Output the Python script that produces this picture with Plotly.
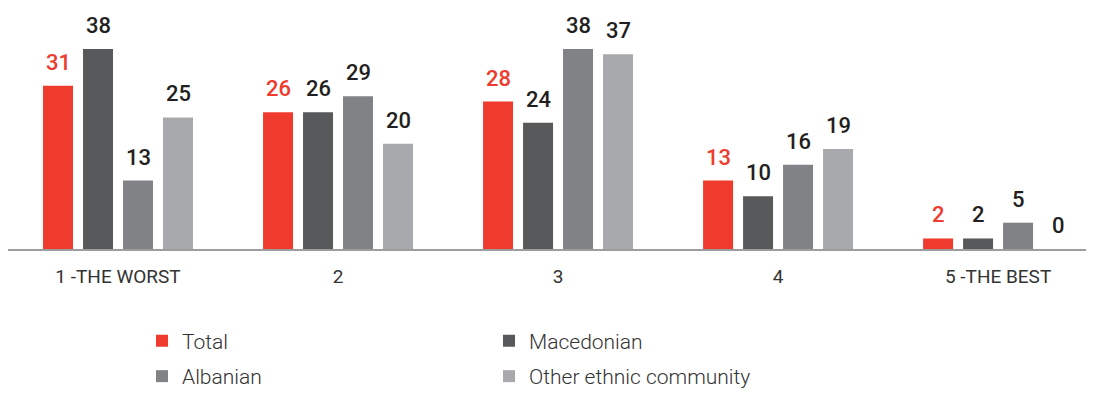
import plotly.graph_objects as go

categories = ["1 -THE WORST", "2", "3", "4", "5 -THE BEST"]
total = [31, 26, 28, 13, 2]
macedonian = [38, 26, 24, 10, 2]
albanian = [13, 29, 38, 16, 5]
other = [25, 20, 37, 19, 0]

series = [
    ("Total", total, "#EE3B2D", "#EE3B2D", "legend"),
    ("Macedonian", macedonian, "#58595B", "#231F20", "legend"),
    ("Albanian", albanian, "#808285", "#231F20", "legend2"),
    ("Other ethnic community", other, "#A7A9AC", "#231F20", "legend2"),
]

fig = go.Figure()
for i, (name, vals, col, lblcol, leg) in enumerate(series):
    fig.add_trace(go.Bar(x=categories, y=vals, name=name, marker_color=col,
                         marker_line_width=0, legend=leg))
    # value labels above bars (x given as category index)
    for j, v in enumerate(vals):
        fig.add_annotation(x=j, y=v, text=str(v), showarrow=False,
                           xshift=(i - 1.5) * 40, yshift=9, yanchor="bottom",
                           font=dict(family="Roboto", size=22, color=lblcol, weight=500))

legfont = dict(family="Roboto", size=21, color="#333333", weight=300)

# page body has an 8px margin, so the figure is a bit smaller than the window
fig.update_layout(
    width=1086, height=389,
    margin=dict(l=0, r=0, t=2, b=148, autoexpand=False),
    plot_bgcolor="white", paper_bgcolor="white",
    barmode="group", bargap=0.273, bargroupgap=0.25,
    font=dict(family="Roboto", color="#333333"),
    xaxis=dict(range=[-0.5, 4.436], showline=True, linecolor="#9D9D9D", linewidth=2,
               ticks="", tickfont=dict(size=19, color="#333333"), ticklabelstandoff=9,
               showgrid=False, automargin=False, fixedrange=True),
    yaxis=dict(range=[0, 45.4], visible=False, showgrid=False, zeroline=False),
    legend=dict(orientation="h", xref="container", yref="container",
                x=0.1234, y=0.144, xanchor="left", yanchor="middle",
                entrywidth=302, font=legfont, traceorder="normal"),
    legend2=dict(orientation="h", xref="container", yref="container",
                 x=0.1234, y=0, xanchor="left", yanchor="bottom",
                 entrywidth=302, font=legfont, traceorder="normal"),
)

fig.write_html("out.html")
